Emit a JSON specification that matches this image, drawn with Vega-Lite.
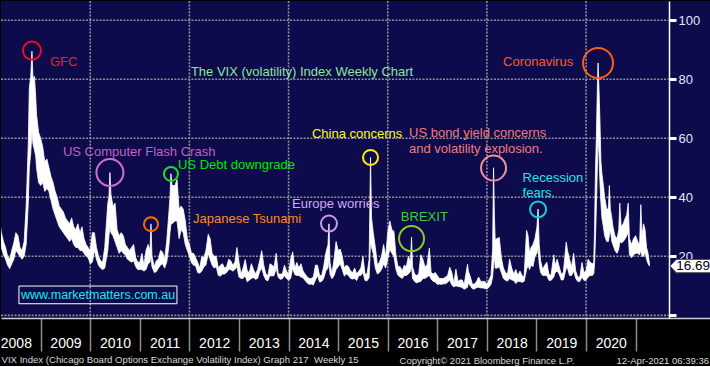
{
"$schema":"https://vega.github.io/schema/vega-lite/v6.json",
"width":710,"height":317,"padding":0,
"background":"#000000",
"config":{"view":{"fill":"#0d0b4b","stroke":null},"font":"Liberation Sans"},
"title":{"text":"Copyright© 2021 Bloomberg Finance L.P.\u00a0\u00a0\u00a0\u00a0\u00a0\u00a0\u00a0\u00a0\u00a0\u00a0\u00a0\u00a0\u00a0\u00a0\u00a0\u00a012-Apr-2021 06:39:36","orient":"bottom","anchor":"end","frame":"group","fontSize":9.5,"fontWeight":"normal","color":"#d8d8d8","font":"Liberation Sans","offset":-8,"dx":-2},
"datasets":{
"vix":[
{"t":2008.17,"h":32,"l":25},{"t":2008.208,"h":28,"l":23},{"t":2008.25,"h":25,"l":20.5},{"t":2008.292,"h":23,"l":19},{"t":2008.333,"h":20,"l":17},{"t":2008.375,"h":19,"l":15.8},{"t":2008.417,"h":22,"l":17.5},{"t":2008.458,"h":24.5,"l":19},{"t":2008.5,"h":28,"l":22},{"t":2008.542,"h":27,"l":21},{"t":2008.583,"h":23,"l":20},{"t":2008.625,"h":22,"l":19},{"t":2008.667,"h":25,"l":20},{"t":2008.708,"h":37,"l":24},{"t":2008.75,"h":58,"l":38},{"t":2008.771,"h":77,"l":50},{"t":2008.8,"h":81,"l":55},{"t":2008.824,"h":89.5,"l":62},{"t":2008.846,"h":80,"l":58},{"t":2008.875,"h":81,"l":56},{"t":2008.9,"h":74,"l":54},{"t":2008.917,"h":68,"l":50},{"t":2008.958,"h":62,"l":45},
{"t":2009.0,"h":60,"l":44},{"t":2009.042,"h":57,"l":45},{"t":2009.083,"h":52,"l":42},{"t":2009.125,"h":53,"l":43},{"t":2009.167,"h":50,"l":42},{"t":2009.208,"h":47,"l":39},{"t":2009.25,"h":45,"l":36},{"t":2009.292,"h":42,"l":34},{"t":2009.333,"h":40,"l":32},{"t":2009.375,"h":37,"l":30},{"t":2009.417,"h":36,"l":29},{"t":2009.458,"h":35,"l":28},{"t":2009.5,"h":33,"l":27},{"t":2009.542,"h":32,"l":26},{"t":2009.583,"h":31,"l":25},{"t":2009.625,"h":33,"l":26},{"t":2009.667,"h":30,"l":24},{"t":2009.708,"h":29,"l":23},{"t":2009.75,"h":31,"l":23},{"t":2009.792,"h":28,"l":22},{"t":2009.833,"h":30,"l":22},{"t":2009.875,"h":26,"l":21},{"t":2009.917,"h":24,"l":20},{"t":2009.958,"h":23,"l":19.5},
{"t":2010.0,"h":22,"l":17.5},{"t":2010.042,"h":28,"l":18},{"t":2010.083,"h":28,"l":22},{"t":2010.125,"h":23,"l":19},{"t":2010.167,"h":20,"l":17},{"t":2010.208,"h":18.5,"l":16},{"t":2010.25,"h":18,"l":15.5},{"t":2010.292,"h":23,"l":16},{"t":2010.354,"h":38,"l":22},{"t":2010.377,"h":40,"l":27},{"t":2010.397,"h":48.4,"l":30},{"t":2010.417,"h":41,"l":28},{"t":2010.458,"h":37,"l":27},{"t":2010.5,"h":38,"l":25},{"t":2010.542,"h":29,"l":23},{"t":2010.583,"h":27,"l":21},{"t":2010.625,"h":28,"l":22},{"t":2010.667,"h":27,"l":21},{"t":2010.708,"h":24,"l":20.5},{"t":2010.75,"h":23,"l":19},{"t":2010.792,"h":22,"l":18.5},{"t":2010.833,"h":23,"l":18},{"t":2010.875,"h":24,"l":18.5},{"t":2010.917,"h":19.5,"l":16.5},{"t":2010.958,"h":18,"l":15.5},
{"t":2011.0,"h":18,"l":15.5},{"t":2011.042,"h":21,"l":15.5},{"t":2011.083,"h":17,"l":15},{"t":2011.125,"h":22,"l":15.5},{"t":2011.167,"h":24,"l":17.5},{"t":2011.205,"h":22,"l":18},{"t":2011.225,"h":31,"l":20},{"t":2011.245,"h":20,"l":16.5},{"t":2011.292,"h":16.5,"l":14.5},{"t":2011.333,"h":18.5,"l":14.8},{"t":2011.375,"h":19,"l":16},{"t":2011.417,"h":22,"l":17},{"t":2011.458,"h":21.5,"l":17.5},{"t":2011.5,"h":19,"l":16},{"t":2011.542,"h":25,"l":18},{"t":2011.583,"h":34,"l":23},{"t":2011.608,"h":40,"l":28},{"t":2011.628,"h":48,"l":31},{"t":2011.65,"h":44,"l":31},{"t":2011.708,"h":44,"l":32},{"t":2011.75,"h":46,"l":32},{"t":2011.792,"h":36,"l":26},{"t":2011.833,"h":37,"l":29},{"t":2011.875,"h":36,"l":28},{"t":2011.917,"h":32,"l":24},{"t":2011.958,"h":26,"l":22},
{"t":2012.0,"h":24,"l":20},{"t":2012.042,"h":21,"l":17.8},{"t":2012.083,"h":21,"l":17},{"t":2012.125,"h":19.5,"l":16.8},{"t":2012.167,"h":18,"l":14.5},{"t":2012.208,"h":16,"l":14.3},{"t":2012.25,"h":20,"l":15},{"t":2012.292,"h":19.5,"l":16.5},{"t":2012.333,"h":22,"l":17},{"t":2012.38,"h":27.5,"l":21},{"t":2012.417,"h":26,"l":19},{"t":2012.458,"h":21,"l":17},{"t":2012.5,"h":20,"l":16},{"t":2012.542,"h":20,"l":16.5},{"t":2012.583,"h":16,"l":13.5},{"t":2012.625,"h":17,"l":13.3},{"t":2012.667,"h":17.5,"l":14},{"t":2012.708,"h":16,"l":14},{"t":2012.75,"h":16.5,"l":14.5},{"t":2012.792,"h":19,"l":15.5},{"t":2012.833,"h":18.5,"l":15.5},{"t":2012.875,"h":17,"l":15},{"t":2012.917,"h":18,"l":15.5},{"t":2012.958,"h":23,"l":16.5},
{"t":2013.0,"h":18,"l":13},{"t":2013.042,"h":14,"l":12.5},{"t":2013.083,"h":16,"l":12.5},{"t":2013.125,"h":18.9,"l":13.5},{"t":2013.167,"h":15,"l":11.3},{"t":2013.208,"h":14.5,"l":12},{"t":2013.25,"h":17.5,"l":12.5},{"t":2013.292,"h":15.5,"l":12.8},{"t":2013.333,"h":14,"l":12.2},{"t":2013.375,"h":15.5,"l":12.5},{"t":2013.417,"h":18.5,"l":14.8},{"t":2013.458,"h":21.9,"l":16},{"t":2013.5,"h":17,"l":13.5},{"t":2013.542,"h":14,"l":12},{"t":2013.583,"h":13.5,"l":11.7},{"t":2013.625,"h":17.5,"l":13.5},{"t":2013.667,"h":17,"l":13.3},{"t":2013.708,"h":16.5,"l":13.5},{"t":2013.75,"h":21,"l":16},{"t":2013.792,"h":14,"l":12.8},{"t":2013.833,"h":14,"l":12.2},{"t":2013.875,"h":14,"l":12.4},{"t":2013.917,"h":17,"l":13.5},{"t":2013.958,"h":15,"l":12.5},
{"t":2014.0,"h":14,"l":12},{"t":2014.042,"h":19,"l":12.5},{"t":2014.083,"h":21.5,"l":16},{"t":2014.125,"h":16,"l":13.8},{"t":2014.167,"h":17.9,"l":13.5},{"t":2014.208,"h":16,"l":13.5},{"t":2014.25,"h":17.5,"l":13},{"t":2014.292,"h":15,"l":12.7},{"t":2014.333,"h":14,"l":11.8},{"t":2014.375,"h":13,"l":11},{"t":2014.417,"h":12.5,"l":10.5},{"t":2014.458,"h":12.5,"l":10.6},{"t":2014.5,"h":13,"l":10.3},{"t":2014.542,"h":17,"l":12},{"t":2014.583,"h":17,"l":13.5},{"t":2014.625,"h":13.5,"l":11.3},{"t":2014.667,"h":13.5,"l":11.5},{"t":2014.708,"h":16.5,"l":12.5},{"t":2014.75,"h":21,"l":15},{"t":2014.795,"h":24,"l":16},{"t":2014.815,"h":31,"l":19},{"t":2014.835,"h":18,"l":14},{"t":2014.875,"h":14,"l":12.4},{"t":2014.917,"h":19,"l":13.5},{"t":2014.958,"h":25,"l":15.5},
{"t":2015.0,"h":22,"l":16.5},{"t":2015.042,"h":22.4,"l":17.5},{"t":2015.083,"h":20,"l":15.5},{"t":2015.125,"h":16,"l":13.3},{"t":2015.167,"h":17,"l":14},{"t":2015.208,"h":16.5,"l":13.5},{"t":2015.25,"h":15,"l":12.5},{"t":2015.292,"h":14.5,"l":12.3},{"t":2015.333,"h":16,"l":12.5},{"t":2015.375,"h":14,"l":11.8},{"t":2015.417,"h":15,"l":13.5},{"t":2015.458,"h":16,"l":13.5},{"t":2015.5,"h":20,"l":14.5},{"t":2015.542,"h":14,"l":11.8},{"t":2015.583,"h":14,"l":11.7},{"t":2015.625,"h":19,"l":12.8},{"t":2015.653,"h":53.5,"l":25},{"t":2015.673,"h":33,"l":23},{"t":2015.708,"h":28,"l":21},{"t":2015.75,"h":23,"l":16},{"t":2015.792,"h":17,"l":14},{"t":2015.833,"h":18,"l":14.5},{"t":2015.875,"h":20,"l":15.5},{"t":2015.917,"h":24,"l":17.5},{"t":2015.958,"h":20,"l":16},
{"t":2016.0,"h":28,"l":19},{"t":2016.042,"h":32,"l":22.5},{"t":2016.083,"h":29,"l":21},{"t":2016.125,"h":28.5,"l":20},{"t":2016.167,"h":20,"l":15.5},{"t":2016.208,"h":16.5,"l":13.5},{"t":2016.25,"h":16.5,"l":13},{"t":2016.292,"h":15,"l":12.5},{"t":2016.333,"h":17,"l":13.5},{"t":2016.375,"h":16.5,"l":13.5},{"t":2016.417,"h":20,"l":14},{"t":2016.46,"h":18,"l":15},{"t":2016.48,"h":26.5,"l":17},{"t":2016.5,"h":16.5,"l":12.5},{"t":2016.542,"h":14,"l":11.5},{"t":2016.583,"h":13.5,"l":11},{"t":2016.625,"h":14,"l":11.3},{"t":2016.667,"h":20.5,"l":11.5},{"t":2016.708,"h":19,"l":12.5},{"t":2016.75,"h":16.5,"l":12.5},{"t":2016.792,"h":17,"l":13},{"t":2016.84,"h":22.8,"l":13.5},{"t":2016.875,"h":14.5,"l":12.3},{"t":2016.917,"h":14,"l":11.5},{"t":2016.958,"h":14.5,"l":11.3},
{"t":2017.0,"h":13.5,"l":10.5},{"t":2017.042,"h":12.5,"l":10.6},{"t":2017.083,"h":12.5,"l":10.5},{"t":2017.125,"h":12.5,"l":10.7},{"t":2017.167,"h":13,"l":10.7},{"t":2017.208,"h":13.5,"l":11.2},{"t":2017.25,"h":16.3,"l":12},{"t":2017.292,"h":14.5,"l":10.3},{"t":2017.333,"h":11,"l":9.6},{"t":2017.375,"h":15.6,"l":10},{"t":2017.417,"h":11.5,"l":9.8},{"t":2017.458,"h":12,"l":9.7},{"t":2017.5,"h":12,"l":9.4},{"t":2017.542,"h":10.5,"l":8.8},{"t":2017.61,"h":17.3,"l":9.5},{"t":2017.625,"h":15,"l":11},{"t":2017.667,"h":13,"l":10},{"t":2017.708,"h":10.5,"l":9},{"t":2017.75,"h":10.6,"l":8.9},{"t":2017.792,"h":11.5,"l":9.4},{"t":2017.833,"h":13,"l":9.5},{"t":2017.875,"h":11.5,"l":9.3},{"t":2017.917,"h":11.5,"l":9.3},{"t":2017.958,"h":11.5,"l":9.1},
{"t":2018.0,"h":10.5,"l":8.9},{"t":2018.042,"h":12,"l":9.5},{"t":2018.083,"h":13.5,"l":10.5},{"t":2018.115,"h":22,"l":13},{"t":2018.134,"h":50,"l":17},{"t":2018.152,"h":33.5,"l":20},{"t":2018.167,"h":25.7,"l":16},{"t":2018.208,"h":26,"l":16},{"t":2018.25,"h":26.4,"l":16.5},{"t":2018.292,"h":19.5,"l":14.5},{"t":2018.333,"h":16,"l":12.5},{"t":2018.375,"h":14.5,"l":11.9},{"t":2018.417,"h":14,"l":11.6},{"t":2018.458,"h":19,"l":12.5},{"t":2018.5,"h":16,"l":12},{"t":2018.542,"h":14,"l":11.8},{"t":2018.583,"h":15.5,"l":10.8},{"t":2018.625,"h":13.5,"l":11.5},{"t":2018.667,"h":15,"l":11.5},{"t":2018.708,"h":13.5,"l":11.2},{"t":2018.75,"h":13,"l":11.5},{"t":2018.8,"h":28.8,"l":15.5},{"t":2018.83,"h":27,"l":17},{"t":2018.86,"h":21,"l":15.5},{"t":2018.89,"h":23,"l":17},{"t":2018.93,"h":24,"l":16.5},{"t":2018.97,"h":26,"l":20},{"t":2019.01,"h":30,"l":21},{"t":2019.032,"h":36,"l":23},{"t":2019.055,"h":24,"l":17.5},
{"t":2019.083,"h":18.5,"l":14.5},{"t":2019.125,"h":15.5,"l":13.5},{"t":2019.167,"h":17,"l":13.5},{"t":2019.208,"h":18,"l":13.5},{"t":2019.25,"h":14,"l":11.9},{"t":2019.292,"h":13.5,"l":11.8},{"t":2019.35,"h":20.5,"l":13},{"t":2019.375,"h":17,"l":14.5},{"t":2019.417,"h":19,"l":15},{"t":2019.458,"h":16.5,"l":14},{"t":2019.5,"h":14,"l":12},{"t":2019.542,"h":14.5,"l":12},{"t":2019.6,"h":24.8,"l":16},{"t":2019.625,"h":22,"l":16},{"t":2019.667,"h":19,"l":13.5},{"t":2019.708,"h":16.5,"l":13.5},{"t":2019.75,"h":21,"l":15},{"t":2019.792,"h":15,"l":12.5},{"t":2019.833,"h":13,"l":11.5},{"t":2019.875,"h":13,"l":11.5},{"t":2019.917,"h":17.9,"l":13},{"t":2019.958,"h":14.5,"l":11.8},
{"t":2020.0,"h":15,"l":12},{"t":2020.042,"h":19,"l":13},{"t":2020.083,"h":18,"l":13.5},{"t":2020.125,"h":17.5,"l":13.5},{"t":2020.155,"h":18,"l":14},{"t":2020.17,"h":28,"l":17},{"t":2020.19,"h":49,"l":26},{"t":2020.21,"h":62,"l":38},{"t":2020.228,"h":77,"l":50},{"t":2020.242,"h":85.5,"l":60},{"t":2020.26,"h":77,"l":55},{"t":2020.28,"h":66,"l":45},{"t":2020.3,"h":52,"l":38},{"t":2020.32,"h":48,"l":33},{"t":2020.35,"h":44,"l":30},{"t":2020.375,"h":40,"l":27},{"t":2020.417,"h":36,"l":25},{"t":2020.45,"h":36,"l":25},{"t":2020.47,"h":44,"l":27},{"t":2020.49,"h":36,"l":29},{"t":2020.52,"h":33,"l":25},{"t":2020.542,"h":30,"l":24},{"t":2020.583,"h":27,"l":22},{"t":2020.625,"h":26,"l":21},{"t":2020.66,"h":29,"l":22.5},{"t":2020.68,"h":38,"l":25},{"t":2020.708,"h":30,"l":24.5},{"t":2020.75,"h":31,"l":25},{"t":2020.792,"h":33,"l":26},{"t":2020.82,"h":34,"l":27},{"t":2020.85,"h":38,"l":28},{"t":2020.875,"h":26,"l":20.5},{"t":2020.917,"h":24,"l":19.5},{"t":2020.958,"h":26,"l":20.5},
{"t":2021.0,"h":27,"l":21},{"t":2021.042,"h":25,"l":21},{"t":2021.08,"h":24,"l":20.5},{"t":2021.105,"h":37.5,"l":22},{"t":2021.13,"h":27,"l":20},{"t":2021.16,"h":31,"l":20},{"t":2021.19,"h":29,"l":21.5},{"t":2021.22,"h":23,"l":19},{"t":2021.25,"h":21,"l":17.5},{"t":2021.28,"h":17.5,"l":16.69}
],
"vgrid":[{"t":2010},{"t":2012},{"t":2014},{"t":2016},{"t":2018},{"t":2020}],
"hgrid":[{"v":0},{"v":20},{"v":40},{"v":60},{"v":80},{"v":100}],
"circles":[
{"event":"GFC","t":2008.824,"v":89.7},{"event":"Corona","t":2020.242,"v":85.5},{"event":"Flash","t":2010.397,"v":48.4},{"event":"Debt","t":2011.628,"v":47.9},{"event":"Japan","t":2011.225,"v":30.9},{"event":"Europe","t":2014.815,"v":31.1},{"event":"China","t":2015.653,"v":53.5},{"event":"Bond","t":2018.134,"v":49.9},{"event":"Recession","t":2019.032,"v":35.9},{"event":"Brexit","t":2016.48,"v":26.0}
],
"notes":[
{"event":"GFC","text":"GFC","t":2009.187,"v":85.9},
{"event":"Title","text":"The VIX (volatility) Index Weekly Chart","t":2012.03,"v":82.5},
{"event":"Corona","text":"Coronavirus","t":2018.326,"v":85.9},
{"event":"Flash","text":"US Computer Flash Crash","t":2009.449,"v":55.4},
{"event":"Debt","text":"US Debt downgrade","t":2011.769,"v":50.9},
{"event":"Japan","text":"Japanese Tsunami","t":2012.072,"v":32.6},
{"event":"Europe","text":"Europe worries","t":2014.069,"v":37.7},
{"event":"China","text":"China concerns","t":2014.472,"v":61.5},
{"event":"Bond","text":"US bond yield concerns","t":2016.429,"v":61.8},
{"event":"Bond","text":"and volatility explosion.","t":2016.429,"v":56.4},
{"event":"Recession","text":"Recession","t":2018.72,"v":46.5},
{"event":"Recession","text":"fears.","t":2018.72,"v":41.5},
{"event":"Brexit","text":"BREXIT","t":2016.265,"v":33.3}
]
},
"layer":[
{"data":{"name":"vgrid"},"mark":{"type":"rule","color":"#909098","strokeWidth":1.6,"strokeDash":[2,1.4]},
 "encoding":{"x":{"field":"t","type":"quantitative","scale":{"domain":[2008.2,2022.52],"nice":false,"zero":false},
   "axis":{"values":[2009,2010,2011,2012,2013,2014,2015,2016,2017,2018,2019,2020,2021],
    "labelExpr":"'' + (datum.value - 1)","labelOffset":-24.8,"labelAlign":"center","labelFlush":false,"labelOverlap":false,"labelBound":false,
    "labelFontSize":14,"labelColor":"#ffffff","labelPadding":-15,"labelFont":"Liberation Sans",
    "tickSize":33,"tickColor":"#8c8c8c","tickWidth":1.5,"domainColor":"#cfcfcf","domainWidth":1.5,"grid":false,
    "title":"VIX Index (Chicago Board Options Exchange Volatility Index) Graph 217\u00a0 Weekly 15",
    "titleAnchor":"start","titleAlign":"left","titleFontSize":9.6,"titleFontWeight":"normal","titleColor":"#d8d8d8","titlePadding":3,"titleFont":"Liberation Sans"}}}},
{"data":{"name":"hgrid"},"mark":{"type":"rule","color":"#909098","strokeWidth":1.6,"strokeDash":[2,1.4]},
 "encoding":{"y":{"field":"v","type":"quantitative","scale":{"domain":[-0.9,106.5],"nice":false,"zero":false},
   "axis":{"orient":"right","offset":-42,"values":[0,10,20,30,40,50,60,70,80,90,100],
    "labelExpr":"datum.value > 0 && datum.value % 20 === 0 ? datum.label : ''",
    "labelFontSize":13,"labelColor":"#dfe6ff","labelPadding":2,"labelFont":"Liberation Sans","labelOverlap":false,"labelBound":false,"labelFlush":false,
    "tickColor":"#ffffff","tickSize":{"condition":{"test":"datum.value % 20 === 0","value":7},"value":4},
    "tickWidth":{"condition":{"test":"datum.value % 20 === 0","value":3},"value":1.5},
    "domainColor":"#ffffff","domainWidth":1.5,"grid":false,"title":null}},
  "x":{"datum":2008.2,"type":"quantitative"},
  "x2":{"datum":2021.67}}},
{"data":{"name":"vix"},"mark":{"type":"area","color":"#ffffff","stroke":"#ffffff","strokeWidth":0.8,"clip":true},
 "encoding":{
  "x":{"field":"t","type":"quantitative"},
  "y":{"field":"h","type":"quantitative"},
  "y2":{"field":"l"}}},
{"data":{"name":"circles"},"mark":{"type":"point","filled":false,"strokeWidth":2,"opacity":1},
 "encoding":{
  "x":{"field":"t","type":"quantitative"},
  "y":{"field":"v","type":"quantitative"},
  "color":{"field":"event","type":"nominal","legend":null,"scale":{"domain":["GFC","Corona","Flash","Debt","Japan","Europe","China","Bond","Recession","Brexit"],"range":["#e8101a","#ff6010","#d070c8","#22dd22","#ff6a00","#cc99ee","#ffee00","#f0909a","#20c8d0","#88cc22"]}},
  "size":{"condition":[{"test":"datum.event==='Corona'","value":900},{"test":"datum.event==='Flash'","value":729},{"test":"datum.event==='Bond'||datum.event==='Brexit'","value":625},{"test":"datum.event==='GFC'","value":324},{"test":"datum.event==='Europe'||datum.event==='Recession'","value":256},{"test":"datum.event==='China'","value":225}],"value":196}}},
{"data":{"name":"notes"},"mark":{"type":"text","align":"left","baseline":"middle","fontSize":13,"font":"Liberation Sans"},
 "encoding":{
  "x":{"field":"t","type":"quantitative"},
  "y":{"field":"v","type":"quantitative"},
  "text":{"field":"text"},
  "color":{"field":"event","type":"nominal","legend":null,"scale":{"domain":["GFC","Title","Corona","Flash","Debt","Japan","Europe","China","Bond","Recession","Brexit"],"range":["#ee1c24","#8ee69a","#ff5a1e","#c060c4","#00e600","#ff8a1c","#d4aaf6","#ffff00","#f07c7c","#22e2ea","#3ccc3c"]}}}},
{"data":{"values":[{"site":"www.marketmatters.com.au"}]},"mark":{"type":"rect","fillOpacity":0,"stroke":"#ffffff","strokeWidth":1},
 "encoding":{
  "x":{"datum":2008.562,"type":"quantitative"},
  "x2":{"datum":2011.749},
  "y":{"datum":3.93,"type":"quantitative"},
  "y2":{"datum":9.93}}},
{"data":{"values":[{"site":"www.marketmatters.com.au"}]},"mark":{"type":"text","align":"center","baseline":"middle","fontSize":12.5,"font":"Liberation Sans","color":"#22e4ee"},
 "encoding":{
  "x":{"datum":2010.157,"type":"quantitative"},
  "y":{"datum":6.9,"type":"quantitative"},
  "text":{"field":"site"}}},
{"data":{"values":[{"last":16.69}]},"mark":{"type":"point","shape":"M -1 0 L -0.7 -0.32 L 1 -0.32 L 1 0.32 L -0.7 0.32 Z","size":1681,"filled":true,"fill":"#ffffff","stroke":"#555555","strokeWidth":1,"opacity":1},
 "encoding":{
  "x":{"datum":2022.108,"type":"quantitative"},
  "y":{"field":"last","type":"quantitative"}}},
{"data":{"values":[{"last":16.69}]},"mark":{"type":"text","align":"center","baseline":"middle","fontSize":13.5,"font":"Liberation Sans","color":"#000000"},
 "encoding":{
  "x":{"datum":2022.16,"type":"quantitative"},
  "y":{"field":"last","type":"quantitative"},
  "text":{"field":"last","format":".2f"}}}
],
"resolve":{"scale":{"color":"independent"}}
}
